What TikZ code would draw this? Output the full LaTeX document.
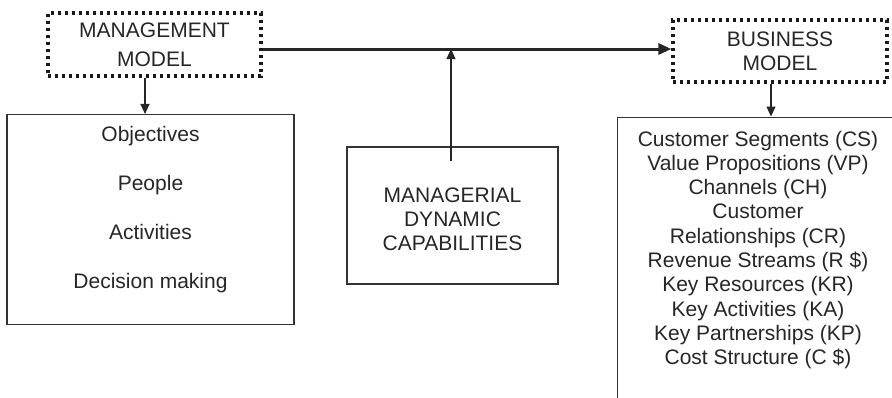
\documentclass[tikz,border=0pt]{standalone}
\usepackage{fontspec}
\setmainfont{Liberation Sans}
\usetikzlibrary{arrows.meta}

\tikzset{
  modelbox/.style={draw=black!90, line width=3.2pt, dash pattern=on 3.2pt off 3.8pt,
    minimum width=213pt, minimum height=63pt, inner sep=0pt, align=center},
  plainbox/.style={draw=black!80, line width=1.1pt, inner sep=0pt},
  boxtext/.style={align=center, inner sep=0pt, text=black!85},
  downarrow/.style={-{Triangle[length=10pt,width=9pt]}, line width=1.1pt, draw=black!85},
  mainarrow/.style={-{Triangle[length=13pt,width=11pt]}, line width=3pt, draw=black!85}
}

\begin{document}
\begin{tikzpicture}[x=1pt,y=-1pt,font=\fontsize{21}{24}\selectfont]
  \useasboundingbox (0,0) rectangle (892,397);
  % the two models
  \node[modelbox, text=black!85] (mmodel) at (154.5,44.5) {MANAGEMENT\\[5pt]MODEL};
  \node[modelbox, text=black!85, minimum width=214pt, minimum height=62pt] (bmodel) at (780,51) {BUSINESS\\MODEL};
  \coordinate (busline) at (0,49);
  \draw[mainarrow] (mmodel.east |- busline) -- (bmodel.west |- busline);

  % management model elements
  \node[plainbox, minimum width=287pt, minimum height=210pt] (mmbox) at (150.5,219.5) {};
  \node[boxtext] (mmlist) at (150.5,210) {Objectives\\[25pt]People\\[25pt]Activities\\[25pt]Decision making};
  \draw[downarrow] ([xshift=-9.5pt]mmodel.south) -- ([xshift=-9.5pt]mmodel.south |- mmbox.north);

  % capabilities
  \node[plainbox, minimum width=211pt, minimum height=137pt] (capab) at (452.5,215.5) {};
  \node[boxtext] (capabtext) at (452.5,219) {MANAGERIAL\\DYNAMIC\\CAPABILITIES};
  \draw[downarrow] ([xshift=-1.5pt,yshift=-15pt]capab.north) -- ([xshift=-1.5pt]capab.north |- busline) ;

  % business model elements
  \begin{scope}
    \clip (0,0) rectangle (892,397);
    \node[plainbox, minimum width=290pt, minimum height=300pt, anchor=north west] (bmbox) at (616.5,116.5) {};
  \end{scope}
  \node[boxtext, font=\fontsize{21}{24.3}\selectfont] (bmlist) at (758,250) {Customer Segments (CS)\\Value Propositions (VP)\\Channels (CH)\\Customer\\Relationships (CR)\\Revenue Streams (R \$)\\Key Resources (KR)\\Key Activities (KA)\\Key Partnerships (KP)\\Cost Structure (C \$)};
  \draw[downarrow] ([xshift=-9pt]bmodel.south) -- ([xshift=-9pt]bmodel.south |- bmbox.north);
\end{tikzpicture}
\end{document}
